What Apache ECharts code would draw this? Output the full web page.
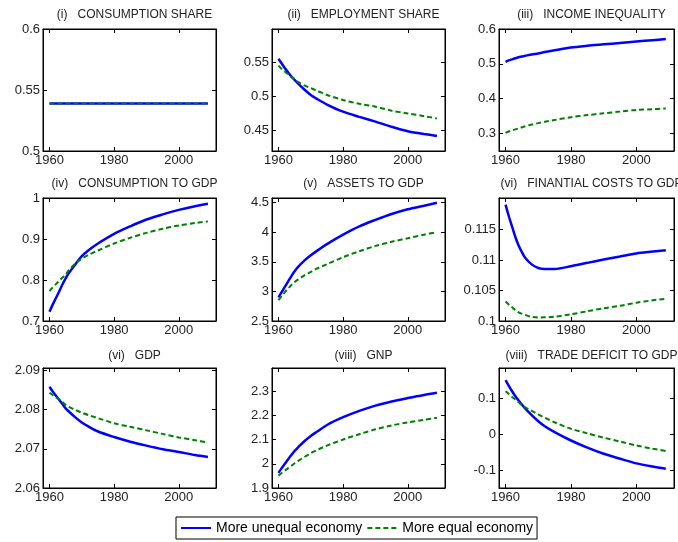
<!DOCTYPE html>
<html>
<head>
<meta charset="utf-8">
<script src="https://cdn.jsdelivr.net/npm/echarts@6/dist/echarts.min.js"></script>
<style>html,body{margin:0;padding:0;background:#fff}#c{width:678px;height:542px}</style>
</head>
<body>
<div id="c"></div>
<script>
const years = [1960,1961,1962,1963,1964,1965,1966,1968,1970,1972,1975,1980,1985,1990,1995,2000,2005,2009];
const xTicks = [1960,1980,2000];
const seriesNames = ['More unequal economy','More equal economy'];
const titles = ['(i)   CONSUMPTION SHARE','(ii)   EMPLOYMENT SHARE','(iii)   INCOME INEQUALITY',
  '(iv)   CONSUMPTION TO GDP','(v)   ASSETS TO GDP','(vi)   FINANTIAL COSTS TO GDP',
  '(vi)   GDP','(viii)   GNP','(viii)   TRADE DEFICIT TO GDP'];

const consShareUnequal = [0.539,0.539,0.539,0.539,0.539,0.539,0.539,0.539,0.539,0.539,0.539,0.539,0.539,0.539,0.539,0.539,0.539,0.539];
const consShareEqual   = [0.539,0.539,0.539,0.539,0.539,0.539,0.539,0.539,0.539,0.539,0.539,0.539,0.539,0.539,0.539,0.539,0.539,0.539];
const emplUnequal = [0.555,0.548,0.541,0.535,0.529,0.524,0.519,0.510,0.502,0.496,0.488,0.4775,0.470,0.463,0.4555,0.449,0.445,0.442];
const emplEqual   = [0.545,0.540,0.536,0.532,0.528,0.525,0.521,0.516,0.512,0.508,0.502,0.4946,0.489,0.4848,0.479,0.475,0.471,0.4676];
const ineqUnequal = [0.506,0.510,0.513,0.516,0.519,0.521,0.523,0.527,0.530,0.534,0.539,0.547,0.552,0.556,0.560,0.564,0.568,0.571];
const ineqEqual   = [0.302,0.306,0.309,0.312,0.315,0.318,0.321,0.326,0.330,0.334,0.339,0.347,0.353,0.358,0.363,0.368,0.370,0.372];
const consGdpUnequal = [0.7225,0.740,0.756,0.772,0.789,0.804,0.817,0.838,0.858,0.872,0.889,0.9125,0.931,0.9475,0.960,0.971,0.980,0.986];
const consGdpEqual   = [0.773,0.782,0.790,0.798,0.806,0.813,0.824,0.840,0.852,0.861,0.872,0.889,0.903,0.915,0.925,0.933,0.939,0.943];
const assetsUnequal = [2.90,2.99,3.08,3.17,3.26,3.34,3.41,3.52,3.61,3.69,3.80,3.96,4.10,4.21,4.31,4.39,4.45,4.50];
const assetsEqual   = [2.854,2.92,2.99,3.05,3.11,3.16,3.20,3.27,3.33,3.39,3.46,3.58,3.68,3.77,3.84,3.90,3.96,4.00];
const finUnequal = [0.1191,0.1172,0.1155,0.1138,0.1124,0.1113,0.1104,0.1093,0.10871,0.10854,0.10854,0.10899,0.10955,0.1101,0.1106,0.1111,0.1114,0.11163];
const finEqual   = [0.1032,0.1027,0.10225,0.1018,0.1014,0.1012,0.1010,0.10067,0.10056,0.1006,0.1007,0.1011,0.1016,0.1021,0.1025,0.1030,0.1034,0.10365];
const gdpUnequal = [2.0858,2.0846,2.0835,2.0825,2.0814,2.0803,2.0795,2.0780,2.0767,2.0757,2.0744,2.0730,2.0718,2.0708,2.0699,2.0692,2.0684,2.0679];
const gdpEqual   = [2.0843,2.0837,2.0831,2.0826,2.0819,2.0812,2.0807,2.0799,2.0792,2.0786,2.0778,2.0765,2.0756,2.0747,2.0738,2.0729,2.0722,2.0716];
const gnpUnequal = [1.9625,1.982,2.000,2.019,2.036,2.053,2.067,2.093,2.115,2.133,2.160,2.192,2.218,2.240,2.257,2.271,2.284,2.293];
const gnpEqual   = [1.951,1.962,1.972,1.982,1.992,2.002,2.011,2.028,2.044,2.057,2.075,2.100,2.122,2.142,2.158,2.171,2.181,2.189];
const tradeUnequal = [0.152,0.136,0.121,0.107,0.095,0.084,0.073,0.054,0.037,0.023,0.0065,-0.017,-0.037,-0.054,-0.068,-0.081,-0.090,-0.096];
const tradeEqual   = [0.121,0.113,0.105,0.098,0.090,0.082,0.076,0.066,0.056,0.047,0.034,0.016,0.003,-0.009,-0.020,-0.031,-0.040,-0.0465];

const yMin = [0.5,0.42,0.25,0.7,2.5,0.1,2.06,1.9,-0.15];
const yMax = [0.6,0.5985,0.6,1.0,4.58,0.1202,2.0906,2.395,0.186];
const yTicks = [[0.5,0.55,0.6],[0.45,0.5,0.55],[0.3,0.4,0.5,0.6],[0.7,0.8,0.9,1],[2.5,3,3.5,4,4.5],
  [0.1,0.105,0.11,0.115],[2.06,2.07,2.08,2.09],[1.9,2,2.1,2.2,2.3],[-0.1,0,0.1]];
const unequalData = [consShareUnequal,emplUnequal,ineqUnequal,consGdpUnequal,assetsUnequal,finUnequal,gdpUnequal,gnpUnequal,tradeUnequal];
const equalData = [consShareEqual,emplEqual,ineqEqual,consGdpEqual,assetsEqual,finEqual,gdpEqual,gnpEqual,tradeEqual];

const cols = [[43,216],[272,445],[499,674]];
const rows = [[29,151],[198,321],[368,488]];
const titleTop = [4,173,345];
const FONT = 'Liberation Sans, Arial, Helvetica, sans-serif';
const fmt = v => String(+(+v).toFixed(4));

const grid=[], xAxis=[], yAxis=[], series=[], title=[];
for (let k=0;k<9;k++){
  const c = cols[k%3], r = rows[Math.floor(k/3)];
  grid.push({left:c[0], top:r[0], width:c[1]-c[0], height:r[1]-r[0], show:true, borderColor:'#000', borderWidth:1, backgroundColor:'#fff'});
  title.push({text:titles[k], left:(c[0]+c[1])/2, top:titleTop[Math.floor(k/3)], textAlign:'center',
    textStyle:{fontFamily:FONT, fontSize:12, fontWeight:'normal', color:'#222'}});
  for (const pos of ['bottom','top']){
    xAxis.push({type:'value', gridIndex:k, position:pos, min:1958, max:2011.5,
      axisLine:{show:true, onZero:false, lineStyle:{color:'#000', width:1}},
      axisTick:{show:true, inside:true, length:4, customValues:xTicks, lineStyle:{color:'#000'}},
      axisLabel:{show:pos==='bottom', customValues:xTicks, margin:3, formatter:v=>String(Math.round(v)), fontFamily:FONT, fontSize:13, color:'#222'},
      splitLine:{show:false}});
  }
  for (const pos of ['left','right']){
    yAxis.push({type:'value', gridIndex:k, position:pos, min:yMin[k], max:yMax[k],
      axisLine:{show:true, onZero:false, lineStyle:{color:'#000', width:1}},
      axisTick:{show:true, inside:true, length:4, customValues:yTicks[k], lineStyle:{color:'#000'}},
      axisLabel:{show:pos==='left', customValues:yTicks[k], margin:3, formatter:fmt, fontFamily:FONT, fontSize:13, color:'#222'},
      splitLine:{show:false}});
  }
  series.push({name:seriesNames[0], type:'line', xAxisIndex:2*k, yAxisIndex:2*k, smooth:0.3, symbol:'none',
    data:years.map((y,i)=>[y, unequalData[k][i]]), lineStyle:{color:'#0000ff', width:2.5}, itemStyle:{color:'#0000ff'}, z:2});
  series.push({name:seriesNames[1], type:'line', xAxisIndex:2*k, yAxisIndex:2*k, smooth:0.3, symbol:'none',
    data:years.map((y,i)=>[y, equalData[k][i]]), lineStyle:{color:'#008000', width:2, type:[5,3]}, itemStyle:{color:'#008000'}, z:3});
}

const chart = echarts.init(document.getElementById('c'), null, {renderer:'canvas'});
chart.setOption({
  animation:false,
  backgroundColor:'#fff',
  title, grid, xAxis, yAxis, series,
  legend:{data:seriesNames, left:176, top:517, orient:'horizontal', borderColor:'#000', borderWidth:1,
    padding:[4,4,4,4], itemGap:4, itemWidth:30, itemHeight:10, backgroundColor:'#fff',
    itemStyle:{opacity:0, borderWidth:0},
    textStyle:{fontFamily:FONT, fontSize:14, color:'#000'}}
});
</script>
</body>
</html>
